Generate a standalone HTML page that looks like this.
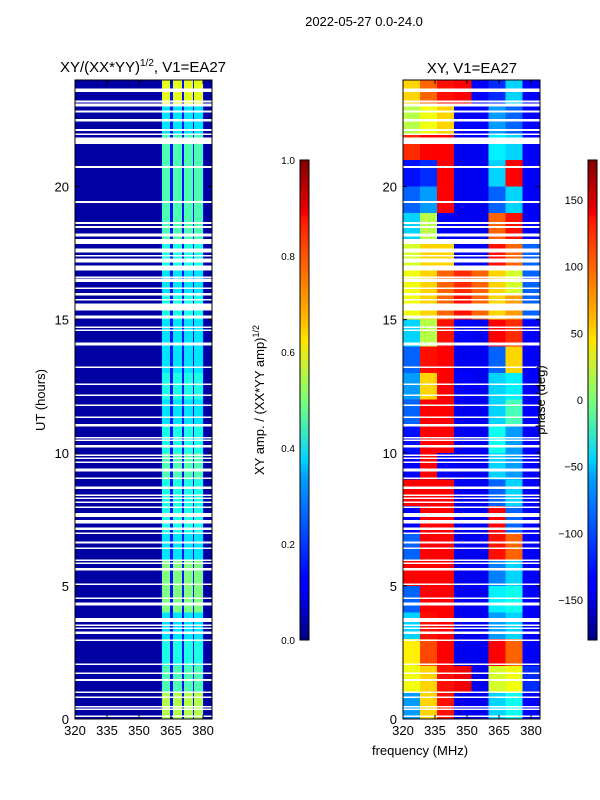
<!DOCTYPE html>
<html><head><meta charset="utf-8"><style>
body{margin:0;background:#fff;width:600px;height:800px;overflow:hidden}
svg{display:block;font-family:"Liberation Sans",sans-serif}
</style></head><body>
<svg id="fig" width="600" height="800" viewBox="0 0 600 800">
<defs>
<linearGradient id="jet" x1="0" y1="1" x2="0" y2="0">
<stop offset="0" stop-color="#000080"/><stop offset="0.11" stop-color="#0000ff"/>
<stop offset="0.125" stop-color="#0000ff"/><stop offset="0.34" stop-color="#00a0ff"/>
<stop offset="0.375" stop-color="#00d4ff"/><stop offset="0.5" stop-color="#7dff7a"/>
<stop offset="0.625" stop-color="#ffe600"/><stop offset="0.66" stop-color="#ffc000"/>
<stop offset="0.875" stop-color="#ff1a00"/><stop offset="0.89" stop-color="#f00000"/>
<stop offset="1" stop-color="#800000"/></linearGradient>
</defs>
<text x="364" y="26" font-size="13" text-anchor="middle">2022-05-27 0.0-24.0</text>
<text x="143" y="72" font-size="15" text-anchor="middle">XY/(XX*YY)<tspan font-size="10" dy="-6">1/2</tspan><tspan dy="6">, V1=EA27</tspan></text>
<text x="472" y="73" font-size="15" text-anchor="middle">XY, V1=EA27</text>
<text transform="translate(45,400) rotate(-90)" font-size="13" text-anchor="middle">UT (hours)</text>
<text x="420" y="755" font-size="13" text-anchor="middle">frequency (MHz)</text>
<g id="left"></g>
<g id="right"></g>
<g id="axes"></g>
<rect x="300" y="160" width="9" height="480" fill="url(#jet)" stroke="#000" stroke-width="1"/>
<rect x="588" y="160" width="9" height="480" fill="url(#jet)" stroke="#000" stroke-width="1"/>
<text transform="translate(264,400) rotate(-90)" font-size="13" text-anchor="middle">XY amp. / (XX*YY amp)<tspan font-size="9" dy="-5">1/2</tspan></text>
<text transform="translate(545,400) rotate(-90)" font-size="13" text-anchor="middle">phase (deg)</text>
</svg>
<script>
const hours=[0,1,2,3,4,5,6,7,8,9,10,11,12,13,14,15,16,17,18,19,20,21,22,23];
const stripeAmp=[0.55,0.45,0.4,0.35,0.5,0.5,0.35,0.4,0.4,0.45,0.4,0.35,0.4,0.35,0.35,0.4,0.35,0.4,0.45,0.45,0.45,0.45,0.35,0.6];
const stripeBands=[[360.8,364.6],[365.9,370.2],[371.1,375.3],[375.8,380]];
const phaseBands=[320,328,336,344,352,360,368,376,384.2];
const phase=[
[-80,60,130,-140,-140,-60,-40,-135],
[40,60,130,140,-140,30,40,-120],
[50,110,135,-140,-140,135,100,-135],
[-60,130,135,-140,-140,-80,-60,-135],
[-100,135,135,-140,-140,-50,-40,-135],
[135,135,135,-140,-140,-90,-60,-135],
[-100,135,135,-140,-140,130,100,-135],
[-135,135,135,-140,-140,135,-100,-135],
[135,135,135,-140,-140,-100,-60,-135],
[-135,135,-135,-140,-140,-60,-80,-135],
[-130,135,135,-140,-140,-40,-80,-135],
[-100,135,135,-140,-140,-60,-20,-135],
[-80,60,135,-135,-140,-60,-50,-135],
[-100,130,135,-140,-140,-100,60,-135],
[-60,20,130,-135,-140,135,120,-135],
[40,60,100,130,100,60,80,-100],
[40,60,100,120,100,60,30,-100],
[30,60,60,-140,-140,130,100,-100],
[-60,20,-135,-140,-140,100,130,-135],
[-100,-80,135,-140,-140,-100,-60,-135],
[-130,-120,135,-140,-140,-60,135,-135],
[120,135,135,-140,-140,-50,-60,-135],
[20,40,60,-135,-135,-80,-100,-135],
[60,100,130,135,-135,-120,-60,-135]];
const gaps=[[23.55,23.68],[23.15,23.23],[23.0,23.11],[22.78,22.85],[22.45,22.53],[22.08,22.16],[21.93,22.0],[21.6,21.84],[20.7,20.77],[19.38,19.45],[18.6,18.66],[18.45,18.51],[18.12,18.24],[17.96,18.02],[17.84,17.95],[17.52,17.67],[17.37,17.43],[17.15,17.3],[16.85,17.03],[16.55,16.62],[16.41,16.52],[16.15,16.2],[15.9,16.0],[15.72,15.78],[15.35,15.6],[15.05,15.15],[14.68,14.75],[14.57,14.63],[14.03,14.15],[13.18,13.24],[12.54,12.6],[12.13,12.18],[11.76,11.81],[11.3,11.36],[10.98,11.08],[10.55,10.6],[10.44,10.49],[10.2,10.3],[9.88,9.93],[9.77,9.82],[9.62,9.67],[9.3,9.4],[9.02,9.07],[8.63,8.73],[8.38,8.43],[8.27,8.32],[8.12,8.17],[7.93,7.98],[7.58,7.73],[7.35,7.47],[7.09,7.2],[6.95,7.0],[6.6,6.66],[6.4,6.45],[5.95,6.0],[5.83,5.88],[5.58,5.68],[5.04,5.09],[4.52,4.57],[4.33,4.38],[4.26,4.31],[3.64,3.79],[3.5,3.55],[3.39,3.44],[3.2,3.29],[2.94,2.99],[2.04,2.09],[1.7,1.75],[1.42,1.5],[0.97,1.03],[0.8,0.85],[0.43,0.48],[0.35,0.4],[0.09,0.14]];
const yTicks=[0,5,10,15,20];
const xTicks=[320,335,350,365,380];
const ampTicks=[0,0.2,0.4,0.6,0.8,1.0];
const phaseTicks=[-150,-100,-50,0,50,100,150];

(function(){
const NS='http://www.w3.org/2000/svg';
const yTop=80,yBot=719,fmin=320,fmax=384.2;
const panels=[{x0:75,x1:212},{x0:403,x1:540}];
function yS(h){return yBot-(h/24)*(yBot-yTop);}
function xS(p,f){return p.x0+(f-fmin)/(fmax-fmin)*(p.x1-p.x0);}
function cl(v){return Math.max(0,Math.min(1,v));}
function jet(v){v=cl(v);const r=cl(1.5-Math.abs(4*v-3)),g=cl(1.5-Math.abs(4*v-2)),b=cl(1.5-Math.abs(4*v-1));
return 'rgb('+Math.round(r*255)+','+Math.round(g*255)+','+Math.round(b*255)+')';}
function rect(g,x,y,w,h,fill){const r=document.createElementNS(NS,'rect');r.setAttribute('x',x);r.setAttribute('y',y);r.setAttribute('width',w);r.setAttribute('height',h);r.setAttribute('fill',fill);r.setAttribute('shape-rendering','crispEdges');g.appendChild(r);return r;}
function text(g,x,y,s,anchor){const t=document.createElementNS(NS,'text');t.setAttribute('x',x);t.setAttribute('y',y);t.setAttribute('font-size','13');t.setAttribute('text-anchor',anchor);t.textContent=s;g.appendChild(t);return t;}

const L=document.getElementById('left');const pl=panels[0];
rect(L,pl.x0,yTop,pl.x1-pl.x0,yBot-yTop,jet(0.035));
hours.forEach((h,i)=>{
  const y0=yS(h+1),y1=yS(h);
  rect(L,xS(pl,360.5),y0,xS(pl,380.5)-xS(pl,360.5),y1-y0,jet(0.14));
  stripeBands.forEach(b=>{
    const r=rect(L,xS(pl,b[0]),y0,xS(pl,b[1])-xS(pl,b[0]),y1-y0,jet(stripeAmp[i]));
    
    
  });
});
const R=document.getElementById('right');const pr=panels[1];
phase.forEach((row,i)=>{
  const y0=yS(hours[i]+1),y1=yS(hours[i]);
  row.forEach((p,j)=>{
    const x0=xS(pr,phaseBands[j]),x1=xS(pr,phaseBands[j+1]);
    const r=rect(R,x0,y0,x1-x0,y1-y0,jet((p+180)/360));
    
    
  });
});
[L,R].forEach((g,k)=>{const p=panels[k];
  gaps.forEach(gp=>{const r=rect(g,p.x0,yS(gp[1]),p.x1-p.x0,Math.max(1.5,yS(gp[0])-yS(gp[1])),'#fff');
    
    });
});
const A=document.getElementById('axes');
panels.forEach((p,k)=>{
  const fr=rect(A,p.x0,yTop,p.x1-p.x0,yBot-yTop,'none');fr.setAttribute('stroke','#000');fr.setAttribute('stroke-width','1');
  
  
  yTicks.forEach(t=>{const y=yS(t);
    const ln=document.createElementNS(NS,'path');ln.setAttribute('d','M'+p.x0+' '+y+'h4M'+p.x1+' '+y+'h-4');ln.setAttribute('stroke','#000');A.appendChild(ln);
    const tx=text(A,p.x0-6,y+5,String(t),'end');
    
    });
  xTicks.forEach(t=>{const x=xS(p,t);
    const ln=document.createElementNS(NS,'path');ln.setAttribute('d','M'+x+' '+yBot+'v-4M'+x+' '+yTop+'v4');ln.setAttribute('stroke','#000');A.appendChild(ln);
    const tx=text(A,x,yBot+16,String(t),'middle');
    
    });
});
ampTicks.forEach(t=>{const y=640-t*480;
  const ln=document.createElementNS(NS,'path');ln.setAttribute('d','M300 '+y+'h3M309 '+y+'h-3');ln.setAttribute('stroke','#000');A.appendChild(ln);
  const tx=text(A,295,y+4,t.toFixed(1),'end');tx.setAttribute('font-size','10');
  
  });
phaseTicks.forEach(t=>{const y=640-(t+180)/360*480;
  const ln=document.createElementNS(NS,'path');ln.setAttribute('d','M588 '+y+'h3M597 '+y+'h-3');ln.setAttribute('stroke','#000');A.appendChild(ln);
  const tx=text(A,583,y+4,t<0?'\u2212'+(-t):String(t),'end');tx.setAttribute('font-size','11');
  
  });
})();
</script>
</body></html>
